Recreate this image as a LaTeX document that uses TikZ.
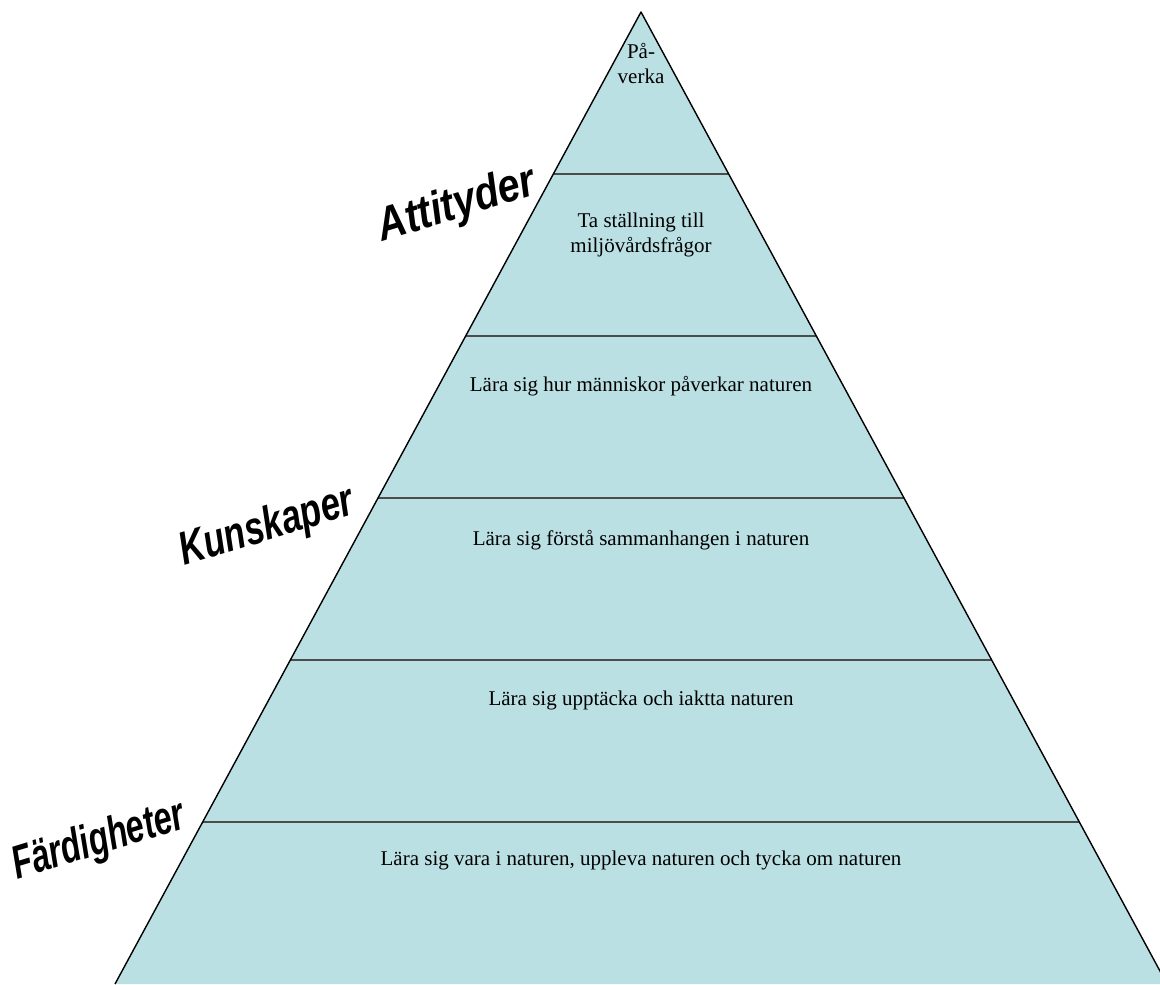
\documentclass[tikz,border=0pt]{standalone}
\usepackage{fontspec}
\setmainfont{Liberation Serif}
\setsansfont{Liberation Sans}
\definecolor{nenxanh}{RGB}{187,224,227}
\tikzset{
  tang/.style={font=\fontsize{10.5}{12.5}\selectfont, align=center, anchor=north},
  nhan/.style={font=\sffamily\bfseries\itshape\fontsize{18}{20}\selectfont, rotate=17, yscale=1.3}
}
\begin{document}
\begin{tikzpicture}[x=0.5pt, y=-0.5pt, line join=round]
	%% Khung
	\def\xmin{0}
	\def\xmax{1160}
	\def\ymin{0}
	\def\ymax{984}
	%% Dinh va day cua kim tu thap
	\def\xa{641}
	\def\ya{12}
	\def\xl{115}
	\def\xr{1167}
	\def\yb{984}
	\def\h{162}
	\useasboundingbox (\xmin,\ymin) rectangle (\xmax,\ymax);
	\clip (\xmin,\ymin) rectangle (\xmax,\ymax);
	%% Kim tu thap
	\fill [nenxanh] (\xa,\ya) -- (\xl,\yb) -- (\xr,\yb) -- cycle;
	\foreach \k in {1,...,5}
		\draw [line width=1pt, black!70] ({\xa-(\xa-\xl)*\k/6},{\ya+\h*\k}) -- ({\xa+(\xa-\xl)*\k/6},{\ya+\h*\k});
	\draw [line width=0.7pt] (\xl,\yb) -- (\xa,\ya) -- (\xr,\yb);
	%% Cac tang
	\node [tang] (t1) at (641,36) {På-\\verka};
	\node [tang] (t2) at (641,206) {Ta ställning till\\miljövårdsfrågor};
	\node [tang] (t3) at (641,369) {Lära sig hur människor påverkar naturen};
	\node [tang] (t4) at (641,523) {Lära sig förstå sammanhangen i naturen};
	\node [tang] (t5) at (641,684) {Lära sig upptäcka och iaktta naturen};
	\node [tang] (t6) at (641,844) {Lära sig vara i naturen, uppleva naturen och tycka om naturen};
	%% Nhan ben trai
	\node [nhan, xscale=1.1] (att) at (457,206) {Attityder};
	\node [nhan, xscale=0.97] (kun) at (267,528) {Kunskaper};
	\node [nhan, xscale=0.9] (far) at (99,842) {Färdigheter};
\end{tikzpicture}
\end{document}
